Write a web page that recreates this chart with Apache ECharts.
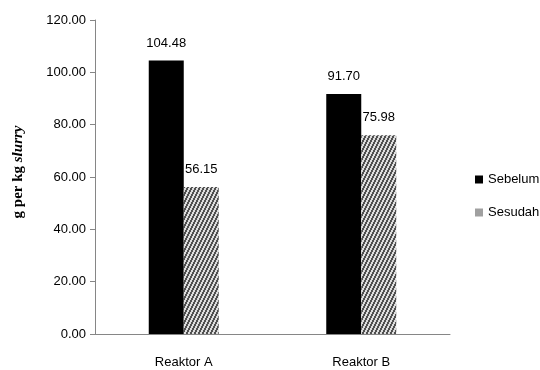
<!DOCTYPE html>
<html><head><meta charset="utf-8">
<script src="https://cdn.jsdelivr.net/npm/echarts@6/dist/echarts.min.js"></script>
<style>html,body{margin:0;padding:0;background:#fff}#c{width:540px;height:370px}</style>
</head><body><div id="c"></div>
<script>
var categories = ['Reaktor A', 'Reaktor B'];
var sebelum = [104.48, 91.70];
var sesudah = [56.15, 75.98];
var yTicks = [0, 20, 40, 60, 80, 100, 120];

function hatch() {
  var cv = document.createElement('canvas');
  cv.width = 4; cv.height = 8;
  var ctx = cv.getContext('2d');
  var img = ctx.createImageData(4, 8);
  for (var y = 0; y < 8; y++) for (var x = 0; x < 4; x++) {
    var dark = ((x + Math.floor(y / 2)) % 4) < 2;
    var v = dark ? 80 : 220;
    var i = (y * 4 + x) * 4;
    img.data[i] = v; img.data[i+1] = v; img.data[i+2] = v; img.data[i+3] = 255;
  }
  ctx.putImageData(img, 0, 0);
  return cv;
}

var chart = echarts.init(document.getElementById('c'), null, {renderer: 'canvas'});
var font = 'Liberation Sans';
chart.setOption({
  animation: false,
  grid: {left: 95, right: 90, top: 20, bottom: 36},
  legend: {
    orient: 'vertical', left: 470, top: 168, itemWidth: 8, itemHeight: 8, itemGap: 20,
    icon: 'rect',
    textStyle: {fontFamily: font, fontSize: 13, color: '#000', padding: [0, 0, 0, 0]},
    data: [{name: 'Sebelum', itemStyle: {color: '#000'}}, {name: 'Sesudah', itemStyle: {color: '#a0a0a0'}}]
  },
  xAxis: {
    type: 'category', data: categories,
    axisLine: {lineStyle: {color: '#868686'}},
    axisTick: {show: false},
    axisLabel: {fontFamily: font, fontSize: 13, color: '#000', margin: 22}
  },
  yAxis: {
    type: 'value', min: yTicks[0], max: yTicks[yTicks.length - 1], interval: 20,
    name: '{a|g per kg }{b|slurry}', nameLocation: 'middle', nameGap: 69, nameRotate: 90,
    nameTextStyle: {padding: [0, 0, 0, 10], rich: {
      a: {fontFamily: 'Liberation Serif', fontWeight: 'bold', fontSize: 15, color: '#000'},
      b: {fontFamily: 'Liberation Serif', fontWeight: 'bold', fontStyle: 'italic', fontSize: 15, color: '#000'}
    }},
    splitLine: {show: false},
    axisLine: {show: true, lineStyle: {color: '#868686'}},
    axisTick: {show: true, length: 5, lineStyle: {color: '#868686'}},
    axisLabel: {fontFamily: font, fontSize: 13, color: '#000', margin: 9,
      formatter: function (v) { return v.toFixed(2); }}
  },
  series: [
    {name: 'Sebelum', type: 'bar', data: sebelum, barWidth: 35, barGap: '0%',
     itemStyle: {color: '#000'},
     label: {show: true, position: 'top', distance: 11, fontFamily: font, fontSize: 13, color: '#000',
       formatter: function (p) { return p.value.toFixed(2); }}},
    {name: 'Sesudah', type: 'bar', data: sesudah, barWidth: 35, barGap: '0%',
     itemStyle: {color: {image: hatch(), repeat: 'repeat'}},
     label: {show: true, position: 'top', distance: 11, fontFamily: font, fontSize: 13, color: '#000',
       formatter: function (p) { return p.value.toFixed(2); }}}
  ]
});
</script></body></html>
